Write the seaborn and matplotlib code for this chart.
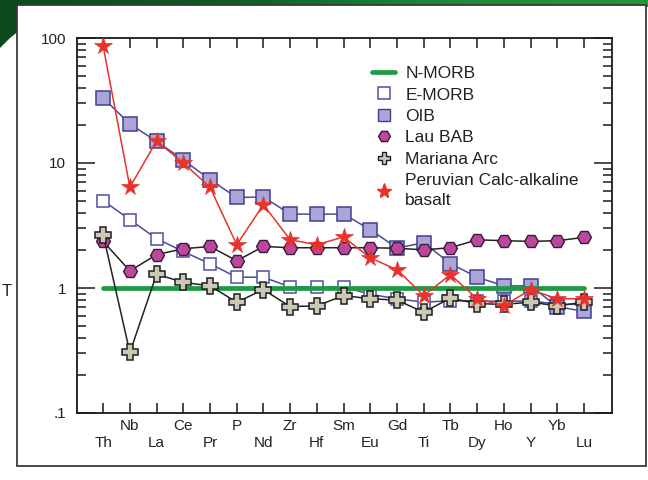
import numpy as np
import pandas as pd
import matplotlib
matplotlib.use("Agg")
import matplotlib.pyplot as plt
from matplotlib.lines import Line2D
from matplotlib.patches import Rectangle, Polygon
from matplotlib.ticker import FixedLocator, FixedFormatter, LogLocator, NullFormatter
import seaborn as sns

# Element order of the multi-element (spider) diagram
elements = ["Th", "Nb", "La", "Ce", "Pr", "P", "Nd", "Zr", "Hf", "Sm",
            "Eu", "Gd", "Ti", "Tb", "Dy", "Ho", "Y", "Yb", "Lu"]

# N-MORB normalised abundances
n_morb = [1, 1, 1, 1, 1, 1, 1, 1, 1, 1, 1, 1, 1, 1, 1, 1, 1, 1, 1]
e_morb = [5.0, 3.52, 2.48, 1.96, 1.56, 1.22, 1.22, 1.02, 1.02, 1.02,
          0.89, 0.82, 0.77, 0.79, 0.79, 0.78, 0.79, 0.74, 0.74]
oib = [33.1, 20.5, 14.9, 10.6, 7.35, 5.3, 5.35, 3.9, 3.9, 3.9,
       2.93, 2.09, 2.3, 1.57, 1.22, 1.04, 1.04, 0.71, 0.65]
lau_bab = [2.36, 1.37, 1.85, 2.06, 2.15, 1.65, 2.15, 2.1, 2.1, 2.1,
           2.1, 2.08, 2.02, 2.1, 2.43, 2.39, 2.36, 2.39, 2.54]
mariana_arc = [2.67, 0.305, 1.29, 1.11, 1.04, 0.77, 0.97, 0.71, 0.72, 0.87,
               0.82, 0.80, 0.64, 0.83, 0.75, 0.74, 0.77, 0.72, 0.77]
peruvian = [86, 6.4, 15.0, 10.0, 6.4, 2.22, 4.64, 2.43, 2.22, 2.56,
            1.74, 1.40, 0.87, 1.28, 0.82, 0.72, 0.97, 0.82, 0.82]

series_names = ["N-MORB", "E-MORB", "OIB", "Lau BAB", "Mariana Arc",
                "Peruvian Calc-alkaline\nbasalt"]

pos = np.arange(len(elements))
df = pd.DataFrame({"pos": pos, "element": elements, "N-MORB": n_morb,
                   "E-MORB": e_morb, "OIB": oib, "Lau BAB": lau_bab,
                   "Mariana Arc": mariana_arc, "Peruvian": peruvian})

sns.set_theme(style="white")
plt.rcParams["font.family"] = ["Liberation Sans", "DejaVu Sans"]

W, H = 648, 480
fig = plt.figure(figsize=(W / 100, H / 100), dpi=100)
fig.patch.set_facecolor("white")

# slide backdrop: green banner and white framed panel
bg = fig.add_axes([0, 0, 1, 1], zorder=-5)
bg.set_xlim(0, W)
bg.set_ylim(H, 0)
bg.axis("off")
grad = np.linspace(0, 1, 256).reshape(1, -1)
cmap = matplotlib.colors.LinearSegmentedColormap.from_list(
    "banner", ["#0a4a1c", "#0d5a22", "#1a8a36", "#22973c"])
bg.imshow(grad, cmap=cmap, extent=[0, W, 7, 0], aspect="auto")
bg.add_patch(Polygon([(0, 0), (20, 0), (20, 30), (10, 38), (0, 48)],
                     closed=True, facecolor="#0a4a1c", edgecolor="none"))
bg.add_patch(Rectangle((17, 5), 629, 461, facecolor="white",
                       edgecolor="#3a3a3a", linewidth=1.3))
bg.text(7, 292, "T", ha="center", va="center", fontsize=12, color="#222222")
bg.set_xlim(0, W)
bg.set_ylim(H, 0)

ax = fig.add_axes([77 / W, 1 - 413 / H, 535 / W, 375 / H])
ax.set_facecolor("none")

line_blue = "#4a4a9c"
styles = {
    "E-MORB": dict(color=line_blue, marker="s", markersize=9,
                   markerfacecolor="white", markeredgecolor="#5050a4",
                   markeredgewidth=1.1, linewidth=1.1, zorder=3),
    "OIB": dict(color=line_blue, marker="s", markersize=9.5,
                markerfacecolor="#aba5d8", markeredgecolor="#40408e",
                markeredgewidth=1.1, linewidth=1.1, zorder=3),
    "Lau BAB": dict(color="#222222", marker="H", markersize=10,
                    markerfacecolor="#bb489c", markeredgecolor="#3a1a3a",
                    markeredgewidth=1.0, linewidth=1.1, zorder=5),
    "Mariana Arc": dict(color="#222222", marker="P", markersize=11,
                        markerfacecolor="#cbc9b6", markeredgecolor="#1e1e1e",
                        markeredgewidth=1.1, linewidth=1.1, zorder=6),
    "Peruvian": dict(color="#e8322b", marker="*", markersize=13,
                     markerfacecolor="#e8322b", markeredgecolor="#e8322b",
                     markeredgewidth=0.5, linewidth=1.1, zorder=7),
}

for name in ["E-MORB", "OIB"]:
    sns.lineplot(data=df, x="pos", y=name, ax=ax, legend=False, **styles[name])

sns.lineplot(data=df, x="pos", y="N-MORB", ax=ax, legend=False,
             color="#1c9a44", linewidth=3.4, zorder=4)

for name in ["Lau BAB", "Mariana Arc", "Peruvian"]:
    sns.lineplot(data=df, x="pos", y=name, ax=ax, legend=False, **styles[name])

ax.set_yscale("log")
ax.set_ylim(0.1, 100)
ax.set_xlim(-0.98, 19.05)
ax.set_xlabel("")
ax.set_ylabel("")

# staggered element labels
xlabels = [("\n" + e) if i % 2 == 0 else e for i, e in enumerate(elements)]
ax.xaxis.set_major_locator(FixedLocator(pos))
ax.xaxis.set_major_formatter(FixedFormatter(xlabels))
ax.yaxis.set_major_locator(FixedLocator([0.1, 1, 10, 100]))
ax.yaxis.set_major_formatter(FixedFormatter([".1", "1", "10", "100"]))
ax.yaxis.set_minor_locator(LogLocator(base=10, subs=np.arange(2, 10)))
ax.yaxis.set_minor_formatter(NullFormatter())

ax.tick_params(axis="x", which="major", direction="in", length=7, width=1.1,
               top=True, bottom=True, labelsize=11, pad=4, colors="#1a1a1a",
               labelcolor="#222222")
ax.tick_params(axis="y", which="major", direction="in", length=13, width=1.1,
               left=True, right=True, labelsize=11, pad=8, colors="#1a1a1a",
               labelcolor="#222222")
ax.tick_params(axis="y", which="minor", direction="in", length=6.5, width=1.1,
               left=True, right=True, colors="#1a1a1a")
for lab in ax.get_xticklabels():
    lab.set_linespacing(1.3)
for sp in ax.spines.values():
    sp.set_visible(True)
    sp.set_color("#1a1a1a")
    sp.set_linewidth(1.3)
ax.grid(False)

handles = [
    Line2D([], [], color="#1c9a44", linewidth=3.4),
    Line2D([], [], linestyle="none", marker="s", markersize=8,
           markerfacecolor="white", markeredgecolor="#5050a4", markeredgewidth=1.1),
    Line2D([], [], linestyle="none", marker="s", markersize=8,
           markerfacecolor="#aba5d8", markeredgecolor="#40408e", markeredgewidth=1.0),
    Line2D([], [], linestyle="none", marker="H", markersize=8.5,
           markerfacecolor="#bb489c", markeredgecolor="#3a1a3a", markeredgewidth=1.0),
    Line2D([], [], linestyle="none", marker="P", markersize=9,
           markerfacecolor="#cbc9b6", markeredgecolor="#1e1e1e", markeredgewidth=1.0),
    Line2D([], [], linestyle="none", marker="*", markersize=11,
           markerfacecolor="#e8322b", markeredgecolor="#e8322b"),
]
leg = ax.legend(handles, series_names, loc="upper left",
                bbox_to_anchor=(0.539, 0.944), frameon=False, fontsize=12.5,
                handlelength=1.3, handletextpad=0.6, labelspacing=0.36,
                borderaxespad=0)
for t in leg.get_texts():
    t.set_color("#222222")
    t.set_linespacing(1.45)

fig.savefig("out.png", dpi=100, facecolor="white")
